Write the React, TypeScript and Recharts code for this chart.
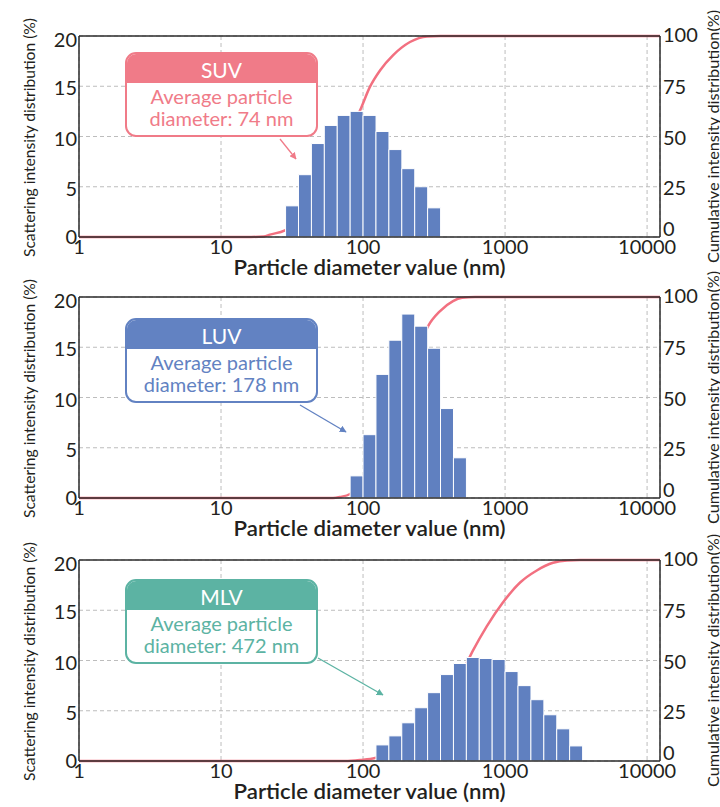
import React from 'react';
import { ComposedChart, Bar, Line, XAxis, YAxis, CartesianGrid, ReferenceLine, Label } from 'recharts';

// ---- axis structure ----
const BIN_COUNT = 45; // 1/11-decade bins from 1 nm to 10^(45/11) nm
const X_MIN = 1;
const X_MAX = 12328;
const xTicks = [1, 10, 100, 1000, 10000];
const leftTicks = [0, 5, 10, 15, 20];
const rightTicks = [0, 25, 50, 75, 100];

const xTitle = 'Particle diameter value (nm)';
const leftTitle = 'Scattering intensity distribution (%)';
const rightTitle = 'Cumulative intensity distribution(%)';

// ---- SUV ----
const suvStartBin = 16;
const suvIntensity = [3.1, 6.2, 9.3, 11.1, 12.1, 12.5, 12.1, 10.5, 8.7, 6.8, 5.0, 2.9];
const suvCumDiameter = [1, 15, 20, 22.1, 28.2, 34.9, 43.5, 63.5, 79.7, 95.3, 112, 132, 163, 214, 282, 350, 12328];
const suvCumPercent = [0, 0, 0.3, 1.2, 3.3, 8, 17, 40.6, 52, 63, 74.8, 83, 90.5, 97, 99.8, 100, 100];

// ---- LUV ----
const luvStartBin = 21;
const luvIntensity = [2.2, 6.3, 12.3, 15.7, 18.3, 17.1, 14.9, 8.9, 4.0];
const luvCumDiameter = [1, 61.5, 68.9, 81, 98, 121.6, 150.8, 187.3, 232.4, 287, 348.6, 430, 498, 615, 12328];
const luvCumPercent = [0, 0, 0.5, 2, 8.8, 18.7, 34, 52, 69.5, 85.5, 93, 98, 99.6, 100, 100];

// ---- MLV ----
const mlvStartBin = 23;
const mlvIntensity = [1.6, 2.5, 3.8, 5.3, 6.8, 8.6, 9.7, 10.3, 10.2, 10.1, 8.9, 7.5, 6.1, 4.6, 3.2, 1.5];
const mlvCumDiameter = [1, 74.7, 95.3, 121.6, 182, 273, 421, 506, 595, 743, 968, 1276, 1672, 2178, 2733, 3377, 12328];
const mlvCumPercent = [0, 0, 0.5, 1.5, 8, 20, 35, 45, 55, 67, 79, 88.8, 94.8, 98.6, 99.8, 100, 100];

// ---- callouts ----
const calloutTitles = ['SUV', 'LUV', 'MLV'];
const calloutLine1 = ['Average particle', 'Average particle', 'Average particle'];
const calloutLine2 = ['diameter: 74 nm', 'diameter: 178 nm', 'diameter: 472 nm'];
const calloutColors = ['#f07b88', '#6282c2', '#5cb3a3'];

const BAR_COLOR = '#6080c0';
const CUM_COLOR = '#f27080';
const AXIS_COLOR = '#2b2b2b';
const TEXT_COLOR = '#231f20';
const FONT = 'Lato, "Noto Sans", sans-serif';

function buildBins(start: number, values: number[]) {
  const rows: { bin: number; v?: number }[] = [];
  for (let i = 0; i < BIN_COUNT; i++) {
    const k = i - start;
    rows.push({ bin: i, v: k >= 0 && k < values.length ? values[k] : undefined });
  }
  return rows;
}

function buildCum(d: number[], c: number[]) {
  return d.map((x, i) => ({ d: x, c: c[i] }));
}

const panels = [
  { top: 0, bins: buildBins(suvStartBin, suvIntensity), cum: buildCum(suvCumDiameter, suvCumPercent) },
  { top: 261, bins: buildBins(luvStartBin, luvIntensity), cum: buildCum(luvCumDiameter, luvCumPercent) },
  { top: 524, bins: buildBins(mlvStartBin, mlvIntensity), cum: buildCum(mlvCumDiameter, mlvCumPercent) },
];

const XTitle = (props: any) => {
  const vb = props.viewBox || { x: 79, y: 237, width: 581, height: 33 };
  return (
    <text x={vb.x + vb.width / 2} y={vb.y + 38} textAnchor="middle" fontFamily={FONT} fontSize={21}
      fontWeight={600} fill={TEXT_COLOR} textLength={272} lengthAdjust="spacingAndGlyphs">{xTitle}</text>
  );
};

const LeftTitle = (props: any) => {
  const vb = props.viewBox || { x: 0, y: 36, width: 79, height: 201 };
  const cx = vb.x + 29;
  const cy = vb.y + vb.height / 2 + 1;
  return (
    <text x={cx} y={cy} transform={`rotate(-90 ${cx} ${cy})`} textAnchor="middle" dominantBaseline="central"
      fontFamily={FONT} fontSize={15} fill={TEXT_COLOR} textLength={239} lengthAdjust="spacingAndGlyphs">{leftTitle}</text>
  );
};

const RightTitle = (props: any) => {
  const vb = props.viewBox || { x: 660, y: 36, width: 60, height: 201 };
  const cx = vb.x + 53;
  const cy = vb.y + vb.height / 2;
  return (
    <text x={cx} y={cy} transform={`rotate(-90 ${cx} ${cy})`} textAnchor="middle" dominantBaseline="central"
      fontFamily={FONT} fontSize={15} fill={TEXT_COLOR} textLength={253} lengthAdjust="spacingAndGlyphs">{rightTitle}</text>
  );
};

const tickStyle = { fontSize: 20, fill: TEXT_COLOR, fontFamily: FONT };

const LeftTick = (props: any) => {
  const { x, y, payload } = props;
  const shift = payload.value === 20 ? 3 : payload.value === 0 ? -1 : 1;
  return (
    <text x={x} y={y + shift} textAnchor="end" dominantBaseline="central" fontSize={20} fill={TEXT_COLOR} fontFamily={FONT}>
      {payload.value}
    </text>
  );
};

const RightTick = (props: any) => {
  const { x, y, payload } = props;
  const shift = payload.value === 0 ? -9 : payload.value === 100 ? -2 : 0;
  return (
    <text x={x} y={y + shift} textAnchor="start" dominantBaseline="central" fontSize={20} fill={TEXT_COLOR} fontFamily={FONT}>
      {payload.value}
    </text>
  );
};

function Panel({ top, bins, cum }: any) {
  return (
    <div style={{ position: 'absolute', left: 0, top }}>
      <ComposedChart width={720} height={270} data={bins} margin={{ top: 36, right: 0, bottom: 0, left: 0 }}
        barCategoryGap={0} barGap={0}>
        <XAxis xAxisId="log" dataKey="d" type="number" scale="log" domain={[X_MIN, X_MAX]} allowDataOverflow
          ticks={xTicks} interval={0} height={33} tickSize={0} tickMargin={3} tickLine={false}
          axisLine={{ stroke: AXIS_COLOR, strokeWidth: 1.5 }} tick={tickStyle}>
          <Label content={<XTitle />} />
        </XAxis>
        <XAxis xAxisId="bin" dataKey="bin" type="category" hide height={0} />
        <YAxis yAxisId="left" orientation="left" domain={[0, 20]} ticks={leftTicks} interval={0} width={79}
          tickSize={0} tickMargin={2} tickLine={false} axisLine={{ stroke: AXIS_COLOR, strokeWidth: 1.5 }} tick={<LeftTick />}>
          <Label content={<LeftTitle />} />
        </YAxis>
        <YAxis yAxisId="right" orientation="right" domain={[0, 100]} ticks={rightTicks} interval={0} width={60}
          tickSize={0} tickMargin={3} tickLine={false} axisLine={{ stroke: AXIS_COLOR, strokeWidth: 1.5 }} tick={<RightTick />}>
          <Label content={<RightTitle />} />
        </YAxis>
        <CartesianGrid xAxisId="log" yAxisId="left" stroke="#bdbdbd" strokeDasharray="4 3" strokeWidth={1} />
        <ReferenceLine xAxisId="log" yAxisId="left" y={20} stroke={AXIS_COLOR} strokeWidth={1.5} />
        <Line xAxisId="log" yAxisId="right" data={cum} dataKey="c" type="monotone" stroke={CUM_COLOR}
          strokeWidth={2.5} dot={false} isAnimationActive={false} zIndex={250} />
        <Bar xAxisId="bin" yAxisId="left" dataKey="v" fill={BAR_COLOR} stroke="#ffffff" strokeWidth={1}
          isAnimationActive={false} />
      </ComposedChart>
    </div>
  );
}

function Callout({ left, top, index }: any) {
  const color = calloutColors[index];
  return (
    <div style={{
      position: 'absolute', left, top, width: 193, height: 85, boxSizing: 'border-box',
      border: `2.5px solid ${color}`, borderRadius: 11, background: '#fff', overflow: 'hidden', fontFamily: FONT,
    }}>
      <div style={{ background: color, color: '#fff', height: 29, lineHeight: '31px', textAlign: 'center', fontSize: 21 }}>
        {calloutTitles[index]}
      </div>
      <div style={{ color, fontSize: 20, lineHeight: '22px', textAlign: 'center', paddingTop: 2 }}>
        {calloutLine1[index]}<br />{calloutLine2[index]}
      </div>
    </div>
  );
}

const arrows = [
  { x1: 280, y1: 139, x2: 296, y2: 159, color: calloutColors[0] },
  { x1: 300, y1: 405, x2: 346, y2: 432, color: calloutColors[1] },
  { x1: 318, y1: 658, x2: 383, y2: 695, color: calloutColors[2] },
];

export default function App() {
  return (
    <div style={{ position: 'absolute', left: 0, top: 0, width: 720, height: 807, overflow: 'hidden', background: '#fff' }}>
      <style>{'.recharts-surface { overflow: visible; }'}</style>
      {panels.map((p, i) => <Panel key={i} {...p} />)}
      <Callout left={125} top={52} index={0} />
      <Callout left={125} top={318} index={1} />
      <Callout left={125} top={579} index={2} />
      <svg width={720} height={807} style={{ position: 'absolute', left: 0, top: 0, pointerEvents: 'none' }}>
        <defs>
          {arrows.map((a, i) => (
            <marker key={i} id={`ah${i}`} viewBox="0 0 10 10" refX="9" refY="5" markerWidth="7" markerHeight="7"
              markerUnits="userSpaceOnUse" orient="auto">
              <path d="M0,0 L10,5 L0,10 z" fill={a.color} />
            </marker>
          ))}
        </defs>
        {arrows.map((a, i) => (
          <line key={i} x1={a.x1} y1={a.y1} x2={a.x2} y2={a.y2} stroke={a.color} strokeWidth={1.3} markerEnd={`url(#ah${i})`} />
        ))}
      </svg>
    </div>
  );
}
